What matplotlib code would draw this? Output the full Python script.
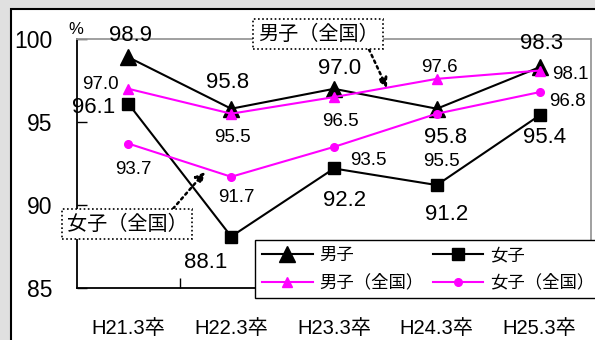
import matplotlib
matplotlib.use("Agg")
import matplotlib.pyplot as plt
from matplotlib.patches import Rectangle

plt.rcParams['font.family'] = ['Liberation Sans', 'Noto Sans CJK JP']

categories = ["H21.3卒", "H22.3卒", "H23.3卒", "H24.3卒", "H25.3卒"]
boys = [98.9, 95.8, 97.0, 95.8, 98.3]
girls = [96.1, 88.1, 92.2, 91.2, 95.4]
boys_nat = [97.0, 95.5, 96.5, 97.6, 98.1]
girls_nat = [93.7, 91.7, 93.5, 95.5, 96.8]
yticks = [85, 90, 95, 100]
series_names = ["男子", "女子", "男子（全国）", "女子（全国）"]

W, H = 595, 340
fig = plt.figure(figsize=(W / 100, H / 100), dpi=100, facecolor="#e0e0e0")

# white panel with black border
fig.patches.append(Rectangle((10.5 / W, -0.1), 1.0, (H - 8.5) / H + 0.1,
                             transform=fig.transFigure, facecolor="white",
                             edgecolor="black", linewidth=1.5, zorder=-5))

ax = fig.add_axes([77 / W, (H - 288) / H, (591 - 77) / W, (288 - 39) / H])
ax.set_zorder(1)
ax.set_facecolor("white")
x = list(range(len(categories)))

h_b, = ax.plot(x, boys, color="black", lw=1.5, marker="^", ms=12, zorder=3, label=series_names[0])
h_g, = ax.plot(x, girls, color="black", lw=1.5, marker="s", ms=8.5, zorder=3, label=series_names[1])
h_bn, = ax.plot(x, boys_nat, color="#ff00ff", lw=1.5, marker="^", ms=7.5, zorder=4, label=series_names[2])
h_gn, = ax.plot(x, girls_nat, color="#ff00ff", lw=1.5, marker="o", ms=5.5, zorder=4, label=series_names[3])

ax.set_xlim(-0.5, len(categories) - 0.5)
ax.set_ylim(85, 100)
ax.set_yticks(yticks)
ax.set_yticklabels([str(v) for v in yticks], fontsize=16.5)
ax.tick_params(axis="y", direction="in", length=7, width=1, pad=18)

ax.set_xticks([i + 0.5 for i in range(len(categories) - 1)])
ax.set_xticklabels([])
ax.tick_params(axis="x", which="major", direction="in", length=7, width=1)
ax.set_xticks(x, minor=True)
ax.set_xticklabels(categories, minor=True, fontsize=14.5)
ax.tick_params(axis="x", which="minor", length=0, pad=22)

for s in ["left", "bottom"]:
    ax.spines[s].set_color("black")
    ax.spines[s].set_linewidth(1.3)
for s in ["top", "right"]:
    ax.spines[s].set_color("#999999")
    ax.spines[s].set_linewidth(1.3)

# data labels (offsets in pixels)
off_boys = [(2, 22), (-4, 26), (6, 20), (9, -29), (2, 24)]
off_girls = [(-35, -4), (-26, -26), (11, -32), (10, -29), (5, -22)]
off_boys_nat = [(-28, 4), (1, -24), (6, -24), (3, 11), (31, -4)]
off_girls_nat = [(5, -26), (5, -21), (34, -14), (5, -48), (28, -9)]

def labels(vals, offs, fs):
    for i, (v, (dx, dy)) in enumerate(zip(vals, offs)):
        ax.annotate(f"{v:.1f}", (i, v), xytext=(dx, dy), textcoords="offset pixels",
                    ha="center", va="center", fontsize=fs, zorder=6,
                    annotation_clip=False)

labels(boys, off_boys, 16)
labels(girls, off_girls, 16)
labels(boys_nat, off_boys_nat, 13.5)
labels(girls_nat, off_girls_nat, 13.5)

fig.text(76 / W, (H - 29) / H, "%", ha="center", va="center", fontsize=12)

# callout boxes
box = dict(boxstyle="square,pad=0.25", facecolor="white", edgecolor="black",
           linestyle=(0, (1, 1.5)), linewidth=1.2)
arrow = dict(arrowstyle="-|>", linestyle=(0, (1, 1.5)), color="black", lw=1.8,
             mutation_scale=14, shrinkA=0, shrinkB=0)
ax.annotate("男子（全国）", xy=(387, H - 88), xycoords="figure pixels",
            xytext=(318, H - 34), textcoords="figure pixels",
            ha="center", va="center", fontsize=14.5, bbox=box, zorder=7,
            annotation_clip=False,
            arrowprops=dict(arrow, relpos=(0.9, 0.0)))
ax.annotate("女子（全国）", xy=(205, H - 172), xycoords="figure pixels",
            xytext=(127, H - 224), textcoords="figure pixels",
            ha="center", va="center", fontsize=14.5, bbox=box, zorder=7,
            annotation_clip=False,
            arrowprops=dict(arrow, relpos=(0.84, 1.0)))

leg = ax.legend(handles=[h_b, h_bn, h_g, h_gn],
                loc="upper left", bbox_to_anchor=(255 / W, (H - 240) / H),
                bbox_transform=fig.transFigure, ncol=2, fontsize=12.5,
                frameon=True, fancybox=False, edgecolor="black", framealpha=1,
                borderaxespad=0, borderpad=0.42, handlelength=2.9,
                handletextpad=0.4, columnspacing=0.5, labelspacing=0.62)
leg.get_frame().set_linewidth(1.0)
leg.set_zorder(8)

fig.savefig("out.png", dpi=100, facecolor=fig.get_facecolor())
